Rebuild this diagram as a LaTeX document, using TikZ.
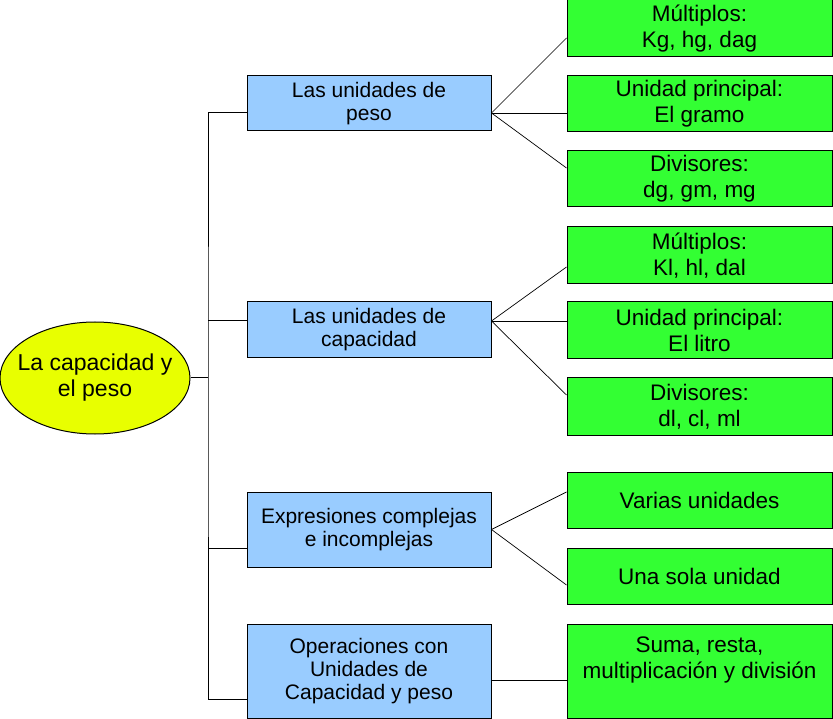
\documentclass[tikz,border=0pt]{standalone}
\usepackage{fontspec}
\setmainfont{Liberation Sans}
\usetikzlibrary{shapes.geometric}

\definecolor{rootyellow}{RGB}{232,255,0}
\definecolor{topicblue}{RGB}{153,204,255}
\definecolor{leafgreen}{RGB}{51,255,51}

\newcommand{\rootline}[1]{\makebox[0pt]{#1}}

\begin{document}
\begin{tikzpicture}[x=1pt, y=-1pt, line width=1pt,
    root node/.style={ellipse, draw, fill=rootyellow, minimum width=190pt,
      minimum height=112pt, inner sep=0pt, align=center,
      font=\fontsize{23}{26}\selectfont},
    topic node/.style={rectangle, draw, fill=topicblue, minimum width=244pt,
      inner sep=0pt, align=center, font=\fontsize{21}{23}\selectfont},
    leaf node/.style={rectangle, draw, fill=leafgreen, minimum width=265pt,
      minimum height=56pt, inner sep=0pt, align=center,
      font=\fontsize{22.5}{26}\selectfont},
    fan/.style={line width=0.7pt}]
  \useasboundingbox (0,0) rectangle (833,719);

  \node[root node] (root) at (95,378) {\rootline{La capacidad y}\\\rootline{el peso}};

  \node[topic node, minimum height=55pt] (peso) at (369,103.5) {Las unidades de\\peso};
  \node[topic node, minimum height=56pt] (capacidad) at (369,329.5) {Las unidades de\\capacidad};
  \node[topic node, minimum height=75pt] (expresiones) at (369,529.5) {Expresiones complejas\\e incomplejas};
  \node[topic node, minimum height=94pt] (operaciones) at (369,671) {Operaciones con\\Unidades de\\Capacidad y peso};

  \node[leaf node, minimum height=57pt] (pmult) at (699.5,28.5) {Múltiplos:\\Kg, hg, dag};
  \node[leaf node] (pprin) at (699.5,104) {Unidad principal:\\El gramo};
  \node[leaf node] (pdiv) at (699.5,179) {Divisores:\\dg, gm, mg};
  \node[leaf node, minimum height=57pt] (cmult) at (699.5,255.5) {Múltiplos:\\Kl, hl, dal};
  \node[leaf node, minimum height=57pt] (cprin) at (699.5,330.5) {Unidad principal:\\El litro};
  \node[leaf node, minimum height=57pt] (cdiv) at (699.5,406.5) {Divisores:\\dl, cl, ml};
  \node[leaf node] (varias) at (699.5,500) {Varias unidades};
  \node[leaf node] (sola) at (699.5,576) {Una sola unidad};
  \node[leaf node, minimum height=94pt] (suma) at (699.5,671) {Suma, resta,\\multiplicación y división\\\mbox{}};

  % tree
  \coordinate (hub) at (208,378);
  \coordinate (peso in) at ([yshift=-9.5pt]peso.west);
  \coordinate (capacidad in) at ([yshift=8.5pt]capacidad.west);
  \coordinate (expresiones in) at ([yshift=-18.5pt]expresiones.west);
  \coordinate (operaciones in) at ([yshift=-28pt]operaciones.west);
  \draw (peso in) -| (hub) |- (operaciones in);
  \draw (root.east) -- (hub);
  \draw (capacidad in) -- (capacidad in -| hub);
  \draw (expresiones in) -- (expresiones in -| hub);

  % fans
  \coordinate (peso out) at ([yshift=-9.5pt]peso.east);
  \coordinate (capacidad out) at ([yshift=8.5pt]capacidad.east);
  \coordinate (operaciones out) at ([yshift=-9pt]operaciones.east);
  \path[draw, fan]
    (peso out) edge ([yshift=-9.5pt]pmult.west)
               edge ([yshift=-9pt]pprin.west)
               edge ([yshift=11pt]pdiv.west)
    (capacidad out) edge ([yshift=-11.5pt]cmult.west)
                    edge ([yshift=9.5pt]cprin.west)
                    edge ([yshift=11.5pt]cdiv.west)
    (expresiones.east) edge ([yshift=8pt]varias.west)
                       edge ([yshift=-9pt]sola.west);
  \draw (operaciones out) -- ([yshift=-9pt]suma.west);
\end{tikzpicture}
\end{document}
